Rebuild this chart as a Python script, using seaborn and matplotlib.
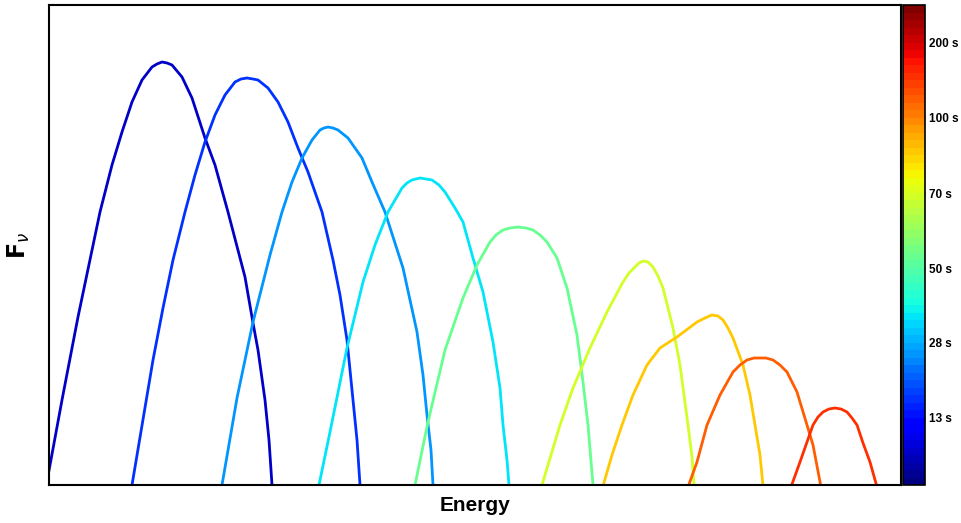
import numpy as np
import pandas as pd
import matplotlib
matplotlib.use("Agg")
import matplotlib.pyplot as plt
import seaborn as sns
from matplotlib.colors import Normalize, ListedColormap

# ---- data (energy / flux in arbitrary units) ----
c1_x = [-3, 1, 13, 29, 51, 63, 73, 83, 93, 103, 108, 113, 118, 123, 133, 143, 156, 166, 179, 196, 204, 209, 216, 220, 223]
c1_y = [-2, 20, 85, 168, 273, 320, 353, 383, 405, 418, 421, 423, 422, 420, 408, 387, 347, 320, 273, 208, 162, 135, 85, 45, 0]
c2_x = [83, 104, 114, 124, 136, 146, 156, 166, 176, 186, 192, 198, 204, 209, 219, 229, 239, 249, 259, 273, 284, 291, 298, 304, 308, 311]
c2_y = [0, 125, 177, 225, 273, 310, 343, 370, 390, 403, 406, 407, 406, 405, 397, 383, 363, 337, 313, 273, 225, 190, 145, 85, 45, 0]
c3_x = [173, 188, 204, 221, 233, 243, 253, 263, 271, 275, 279, 284, 289, 299, 313, 323, 336, 354, 368, 374, 378, 382, 384]
c3_y = [0, 87, 163, 230, 273, 303, 327, 345, 355, 357, 358, 357, 355, 347, 327, 303, 273, 217, 153, 110, 70, 35, 0]
c4_x = [270, 281, 298, 314, 326, 339, 353, 358, 363, 367, 371, 377, 383, 390, 396, 406, 414, 424, 434, 444, 451, 454, 458, 460]
c4_y = [0, 53, 137, 203, 240, 273, 297, 302, 305, 306, 307, 306, 305, 300, 293, 277, 263, 227, 193, 143, 97, 60, 25, 0]
c5_x = [366, 379, 396, 414, 428, 441, 447, 454, 461, 469, 477, 484, 491, 498, 508, 518, 528, 534, 539, 544]
c5_y = [0, 63, 135, 187, 220, 243, 250, 255, 257, 258, 257, 255, 250, 243, 227, 197, 150, 103, 60, 0]
c6_x = [493, 511, 524, 541, 558, 574, 580, 586, 590, 594, 599, 604, 609, 614, 624, 631, 639, 643, 645]
c6_y = [0, 60, 97, 137, 173, 203, 212, 218, 222, 224, 223, 218, 209, 197, 157, 120, 60, 28, 0]
c7_x = [554, 563, 573, 584, 598, 611, 628, 648, 656, 663, 669, 674, 679, 684, 694, 701, 706, 711, 714]
c7_y = [-1, 30, 60, 90, 120, 137, 148, 163, 167, 170, 169, 165, 157, 147, 120, 90, 60, 30, -1]
c8_x = [639, 648, 658, 671, 684, 691, 698, 705, 711, 717, 724, 731, 738, 748, 758, 764, 772]
c8_y = [-2, 23, 60, 90, 113, 120, 125, 127, 127, 127, 125, 120, 113, 93, 60, 40, -2]
c9_x = [742, 751, 764, 769, 774, 780, 786, 792, 798, 803, 808, 814, 821, 828]
c9_y = [-2, 23, 60, 68, 73, 76, 77, 76, 73, 67, 60, 42, 23, -2]

curve_x = [c1_x, c2_x, c3_x, c4_x, c5_x, c6_x, c7_x, c8_x, c9_x]
curve_y = [c1_y, c2_y, c3_y, c4_y, c5_y, c6_y, c7_y, c8_y, c9_y]
# colour-bar position of each curve (0..1)
curve_time_pos = [0.066, 0.175, 0.275, 0.35, 0.474, 0.598, 0.694, 0.802, 0.856]

cbar_tick_pos = [0.140, 0.296, 0.452, 0.608, 0.765, 0.921]
cbar_tick_labels = ["13 s", "28 s", "50 s", "70 s", "100 s", "200 s"]

# ---- figure ----
sns.set_theme(style="white")
plt.rcParams["font.family"] = ["Liberation Sans", "DejaVu Sans"]
plt.rcParams["text.color"] = "black"
plt.rcParams["axes.labelcolor"] = "black"

W, H = 962, 523
fig = plt.figure(figsize=(W / 100, H / 100), dpi=100)
ax = fig.add_axes([49 / W, (H - 485) / H, (901 - 49) / W, (485 - 5) / H])

jet64 = ListedColormap(plt.get_cmap("jet")(np.linspace(0, 1, 64)))
norm = Normalize(0, 1)

rows = []
for i, (xs, ys) in enumerate(zip(curve_x, curve_y)):
    for x, y in zip(xs, ys):
        rows.append({"energy": x, "flux": y, "curve": f"c{i}"})
df = pd.DataFrame(rows)
palette = {f"c{i}": jet64(norm(t)) for i, t in enumerate(curve_time_pos)}

sns.lineplot(data=df, x="energy", y="flux", hue="curve", palette=palette,
             estimator=None, sort=False, legend=False, linewidth=2.0, ax=ax)
for ln in ax.get_lines():
    ln.set_solid_joinstyle("round")

ax.set_xlim(0, 852)
ax.set_ylim(0, 480)
ax.set_xticks([])
ax.set_yticks([])
for s in ax.spines.values():
    s.set_visible(True)
    s.set_color("black")
    s.set_linewidth(1.5)
ax.set_xlabel("Energy", fontsize=15, fontweight="bold", labelpad=8, color="black")
ax.set_ylabel(r"$\mathbf{F}_{\nu}$", fontsize=17, labelpad=12, color="black")

cax = fig.add_axes([903 / W, (H - 485) / H, 22 / W, 480 / H])
sm = matplotlib.cm.ScalarMappable(norm=norm, cmap=jet64)
cb = fig.colorbar(sm, cax=cax)
cb.set_ticks(cbar_tick_pos)
cb.set_ticklabels(cbar_tick_labels)
cb.outline.set_linewidth(1.2)
cb.outline.set_edgecolor("black")
cax.tick_params(direction="in", left=True, right=True, length=4, width=1,
                labelsize=8.5, pad=3, colors="black")
for lab in cax.get_yticklabels():
    lab.set_fontweight("bold")

fig.savefig("out.png", dpi=100, facecolor="white")
